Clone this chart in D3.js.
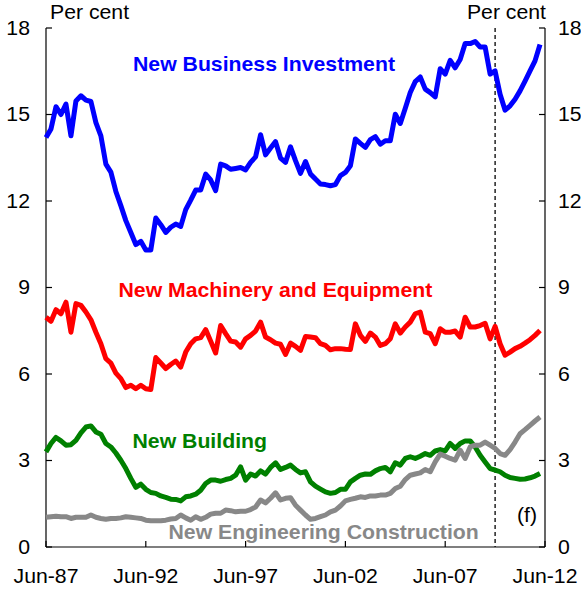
<!DOCTYPE html>
<html>
<head>
<meta charset="utf-8">
<script src="https://cdn.jsdelivr.net/npm/d3@7"></script>
<style>
  html, body { margin: 0; padding: 0; background: #fff; }
  svg { display: block; }
  text { font-family: "Liberation Sans", Arial, sans-serif; }
</style>
</head>
<body>
<svg id="chart" width="581" height="590"></svg>
<script>
// Quarterly data, Jun-87 onward (per cent)
const startYear = 1987.5; // Jun-87
const forecastStart = 2010.0; // dashed line (Dec-09)

const businessInvestment = [
  14.2,14.5,15.27,15.0,15.36,14.26,15.47,15.65,15.5,15.45,
  14.72,14.26,13.28,13.0,12.33,11.84,11.32,10.91,10.49,10.6,
  10.3,10.3,11.41,11.18,10.91,11.09,11.2,11.12,11.7,12.03,
  12.38,12.38,12.93,12.73,12.36,13.28,13.22,13.1,13.13,13.16,
  13.08,13.34,13.53,14.3,13.6,13.84,14.06,13.49,13.34,13.88,
  13.4,12.96,13.37,12.94,12.76,12.59,12.57,12.53,12.57,12.88,
  12.99,13.22,14.15,14.0,13.86,14.13,14.23,13.97,14.09,14.09,
  15.01,14.69,15.22,15.76,16.14,16.3,15.88,15.76,15.61,16.59,
  16.4,16.88,16.62,16.91,17.46,17.46,17.53,17.34,17.34,16.4,
  16.51,15.7,15.15,15.3,15.53,15.82,16.16,16.51,16.86,17.43
];

const machineryEquipment = [
  7.97,7.83,8.23,8.09,8.49,7.45,8.44,8.38,8.15,7.88,
  7.45,7.05,6.53,6.38,6.03,5.84,5.53,5.61,5.49,5.61,
  5.49,5.46,6.57,6.38,6.19,6.33,6.45,6.24,6.76,7.05,
  7.22,7.26,7.54,7.14,6.73,7.68,7.4,7.14,7.11,6.93,
  7.22,7.34,7.49,7.8,7.28,7.19,7.07,7.03,6.68,7.07,
  6.96,6.82,7.3,7.28,7.26,7.05,6.99,6.84,6.88,6.88,
  6.86,6.85,7.74,7.34,7.13,7.42,7.28,6.99,7.05,7.22,
  7.74,7.42,7.63,7.8,8.09,8.15,7.45,7.4,7.05,7.57,
  7.45,7.45,7.49,7.28,7.97,7.63,7.63,7.68,7.76,7.22,
  7.65,7.05,6.65,6.76,6.88,6.96,7.07,7.19,7.34,7.51
];

const building = [
  3.3,3.59,3.8,3.68,3.53,3.55,3.7,3.96,4.16,4.2,
  3.99,3.91,3.59,3.47,3.26,3.01,2.72,2.38,2.07,2.18,
  2.0,1.89,1.86,1.77,1.72,1.66,1.65,1.6,1.74,1.77,
  1.83,1.97,2.2,2.32,2.32,2.28,2.34,2.38,2.49,2.78,
  2.32,2.53,2.46,2.64,2.53,2.76,2.92,2.69,2.76,2.84,
  2.69,2.57,2.61,2.26,2.11,2.01,1.91,1.86,1.89,2.0,
  2.0,2.26,2.38,2.49,2.53,2.52,2.64,2.72,2.76,2.61,
  2.92,2.84,3.07,3.13,3.07,3.15,3.24,3.18,3.33,3.38,
  3.33,3.59,3.42,3.59,3.68,3.68,3.47,3.18,2.95,2.72,
  2.67,2.61,2.49,2.41,2.38,2.35,2.36,2.4,2.46,2.55
];

const engineeringConstruction = [
  1.03,1.05,1.07,1.05,1.05,0.99,1.03,1.03,1.03,1.11,
  1.03,0.99,0.96,0.99,0.99,1.01,1.05,1.03,1.01,0.99,
  0.93,0.91,0.91,0.91,0.93,0.97,0.99,1.11,1.01,0.93,
  1.05,0.96,1.03,1.14,1.17,1.17,1.28,1.26,1.22,1.24,
  1.24,1.3,1.39,1.63,1.53,1.69,1.88,1.63,1.69,1.71,
  1.45,1.28,1.11,0.96,0.99,1.05,1.11,1.22,1.28,1.42,
  1.6,1.65,1.69,1.74,1.72,1.77,1.77,1.8,1.8,1.86,
  2.03,2.11,2.34,2.49,2.53,2.57,2.69,2.61,2.95,3.22,
  3.15,3.07,3.01,3.36,3.07,3.47,3.53,3.53,3.64,3.53,
  3.42,3.24,3.18,3.38,3.64,3.93,4.07,4.22,4.37,4.51
];

const yTicks = [0, 3, 6, 9, 12, 15, 18];
const xTickYears = [1987.5, 1992.5, 1997.5, 2002.5, 2007.5, 2012.5];
const xTickLabels = ["Jun-87", "Jun-92", "Jun-97", "Jun-02", "Jun-07", "Jun-12"];
const unitLabel = "Per cent";
const seriesNames = ["New Business Investment", "New Machinery and Equipment", "New Building", "New Engineering Construction"];
const forecastLabel = "(f)";

const svg = d3.select("#chart");
const mLeft = 46, mRight = 545, mTop = 28, mBottom = 547;

const x = d3.scaleLinear().domain([1987.5, 2012.5]).range([mLeft, mRight]);
const y = d3.scaleLinear().domain([0, 18]).range([mBottom, mTop]);

const FS = 19.5, SX = 1.09;
function txt(g, tx, ty, s, opts = {}) {
  return g.append("text")
    .attr("transform", `translate(${tx},${ty}) scale(${opts.sx || SX},1)`)
    .attr("text-anchor", opts.anchor || "start")
    .attr("dominant-baseline", opts.baseline || "alphabetic")
    .attr("font-size", opts.size || FS)
    .attr("font-weight", opts.weight || "normal")
    .attr("fill", opts.fill || "#000")
    .text(s);
}

// Axes
const axG = svg.append("g");
axG.append("line").attr("x1", mLeft).attr("x2", mLeft).attr("y1", y(18)).attr("y2", mBottom).attr("stroke", "#000").attr("stroke-width", 1.2);
axG.append("line").attr("x1", mRight).attr("x2", mRight).attr("y1", y(18)).attr("y2", mBottom).attr("stroke", "#000").attr("stroke-width", 1.2);
axG.append("line").attr("x1", mLeft).attr("x2", mRight).attr("y1", mBottom).attr("y2", mBottom).attr("stroke", "#000").attr("stroke-width", 1.2);

yTicks.forEach(v => {
  axG.append("line").attr("x1", mLeft).attr("x2", mLeft + 6).attr("y1", y(v)).attr("y2", y(v)).attr("stroke", "#000").attr("stroke-width", 1.2);
  axG.append("line").attr("x1", mRight - 6).attr("x2", mRight).attr("y1", y(v)).attr("y2", y(v)).attr("stroke", "#000").attr("stroke-width", 1.2);
  txt(axG, 30, y(v), String(v), {anchor: "end", baseline: "central"});
  txt(axG, 558, y(v), String(v), {anchor: "start", baseline: "central"});
});

xTickYears.forEach((yr, i) => {
  axG.append("line").attr("x1", x(yr)).attr("x2", x(yr)).attr("y1", mBottom).attr("y2", mBottom - 6).attr("stroke", "#000").attr("stroke-width", 1.2);
  txt(axG, x(yr), 583, xTickLabels[i], {anchor: "middle"});
});

txt(axG, 50, 19, unitLabel, {anchor: "start"});
txt(axG, 546, 19, unitLabel, {anchor: "end"});

// Forecast dashed line
svg.append("line")
  .attr("x1", x(forecastStart)).attr("x2", x(forecastStart))
  .attr("y1", y(18)).attr("y2", mBottom)
  .attr("stroke", "#000").attr("stroke-width", 1.3)
  .attr("stroke-dasharray", "4,3");

// Lines
const line = d3.line().x((d, i) => x(startYear + i * 0.25)).y(d => y(d));
const series = [
  {data: businessInvestment, color: "#0000ff"},
  {data: machineryEquipment, color: "#ff0000"},
  {data: building, color: "#008000"},
  {data: engineeringConstruction, color: "#888888"}
];
series.forEach(s => {
  svg.append("path").datum(s.data).attr("d", line)
    .attr("fill", "none").attr("stroke", s.color).attr("stroke-width", 5)
    .attr("stroke-linejoin", "round").attr("stroke-linecap", "butt");
});

// Series labels
const lg = svg.append("g");
txt(lg, 133, 70.5, seriesNames[0], {weight: "bold", fill: "#0000ff"});
txt(lg, 118.5, 296.5, seriesNames[1], {weight: "bold", fill: "#ff0000"});
txt(lg, 132.5, 448, seriesNames[2], {weight: "bold", fill: "#008000"});
txt(lg, 168.5, 539, seriesNames[3], {weight: "bold", fill: "#888888"});
txt(lg, 517, 522, forecastLabel, {anchor: "start"});
</script>
</body>
</html>
